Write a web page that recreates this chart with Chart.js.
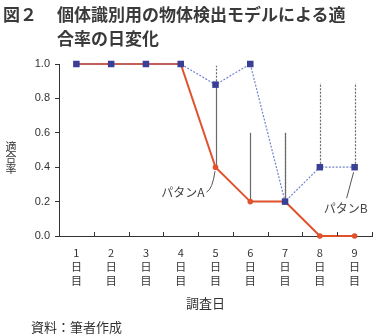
<!DOCTYPE html>
<html lang="ja">
<head>
<meta charset="utf-8">
<script src="https://cdn.jsdelivr.net/npm/chart.js@4.4.1/dist/chart.umd.min.js"></script>
<style>
  html, body { margin: 0; padding: 0; background: #fff; }
  body { width: 380px; height: 336px; position: relative; overflow: hidden;
         font-family: "Noto Sans CJK JP", "Noto Sans", sans-serif; color: #333; }
  #chart { position: absolute; left: 0; top: 0; }
  .txt { position: absolute; white-space: nowrap; line-height: 1; }
  .title { font-size: 17px; font-weight: bold; color: #3a3a3a; }
  .ytitle div { font-size: 11px; line-height: 11px; height: 11px; text-align: center; width: 14px; }
</style>
</head>
<body>
<canvas id="chart" width="380" height="336"></canvas>
<div class="txt title" style="left:3px;top:5px;">図２</div>
<div class="txt title" style="left:57px;top:5px;">個体識別用の物体検出モデルによる適</div>
<div class="txt title" style="left:57px;top:29px;">合率の日変化</div>
<div class="txt ytitle" style="left:4px;top:141px;"><div>適</div><div>合</div><div>率</div></div>
<div class="txt" style="left:186px;top:296px;font-size:13px;">調査日</div>
<div class="txt" style="left:31px;top:320px;font-size:13px;">資料：筆者作成</div>
<script>
// days surveyed
var days = ['1', '2', '3', '4', '5', '6', '7', '8', '9'];
var yTicks = [0, 0.2, 0.4, 0.6, 0.8, 1.0];

// fit rate per day
var patternA = [1.0, 1.0, 1.0, 1.0, 0.4, 0.2, 0.2, 0.0, 0.0];
var patternB = [1.0, 1.0, 1.0, 1.0, 0.88, 1.0, 0.2, 0.4, 0.4];

// upper end of the error bars
var upperA = [null, null, null, null, 0.88, 0.6, 0.6, null, null];
var upperB = [null, null, null, null, 0.99, null, 0.6, 0.89, 0.89];

var RED = '#e0512c';
var NAVY = '#3a3f96';
var BLUE_LINE = '#7384cc';
var AXIS = '#333';

// vertical error bars, solid for A and dotted for B
var errorBars = {
  id: 'errorBars',
  beforeDatasetsDraw: function(chart) {
    var ctx = chart.ctx;
    var x = chart.scales.x, y = chart.scales.y;
    function draw(values, uppers, dash) {
      ctx.save();
      ctx.strokeStyle = '#6a6a6a';
      ctx.lineWidth = 1.2;
      ctx.setLineDash(dash);
      uppers.forEach(function(u, i) {
        if (u === null) return;
        var px = Math.round(x.getPixelForValue(i)) + 0.5;
        ctx.beginPath();
        ctx.moveTo(px, y.getPixelForValue(values[i]));
        ctx.lineTo(px, y.getPixelForValue(u));
        ctx.stroke();
      });
      ctx.restore();
    }
    draw(patternB, upperB, [2, 1.5]);
    draw(patternA, upperA, []);
  }
};

// inward tick marks on the x axis and series labels
var extras = {
  id: 'extras',
  afterDraw: function(chart) {
    var ctx = chart.ctx;
    var x = chart.scales.x, y = chart.scales.y;
    var area = chart.chartArea;
    var step = x.getPixelForValue(1) - x.getPixelForValue(0);
    ctx.save();
    ctx.strokeStyle = AXIS;
    ctx.lineWidth = 1;
    for (var i = 1; i <= days.length; i++) {
      var tx = Math.round(area.left + step * i) + 0.5;
      ctx.beginPath();
      ctx.moveTo(tx, area.bottom);
      ctx.lineTo(tx, area.bottom - 4);
      ctx.stroke();
    }

    ctx.font = '12px "Noto Sans CJK JP", sans-serif';
    ctx.fillStyle = '#444';
    ctx.strokeStyle = '#555';
    ctx.textBaseline = 'middle';

    // パタンA points at day 5
    var ax = x.getPixelForValue(4), ay = y.getPixelForValue(patternA[4]);
    ctx.beginPath();
    ctx.moveTo(ax - 0.5, ay + 4);
    ctx.quadraticCurveTo(ax - 3, ay + 22, ax - 9, ay + 25);
    ctx.stroke();
    ctx.textAlign = 'right';
    ctx.fillText('パタンA', ax - 11, ay + 25);

    // パタンB points at day 9
    var bx = x.getPixelForValue(8), by = y.getPixelForValue(patternB[8]);
    ctx.beginPath();
    ctx.moveTo(bx - 1, by + 5);
    ctx.lineTo(bx - 8, by + 31);
    ctx.stroke();
    ctx.textAlign = 'center';
    ctx.fillText('パタンB', bx - 9, by + 41);
    ctx.restore();
  }
};

new Chart(document.getElementById('chart'), {
  type: 'line',
  data: {
    labels: days.map(function(d) { return [d, '日', '目']; }),
    datasets: [
      {
        label: 'パタンB',
        data: patternB,
        order: 0,
        borderColor: BLUE_LINE,
        borderWidth: 1.2,
        borderDash: [2, 1.5],
        pointStyle: 'rect',
        pointRadius: 4.6,
        pointBackgroundColor: NAVY,
        pointBorderColor: NAVY,
        pointBorderWidth: 0,
        tension: 0,
        clip: false
      },
      {
        label: 'パタンA',
        data: patternA,
        order: 1,
        borderColor: RED,
        borderWidth: 2,
        pointStyle: 'circle',
        pointRadius: 2.8,
        pointBackgroundColor: RED,
        pointBorderColor: RED,
        pointBorderWidth: 0,
        tension: 0,
        clip: false
      }
    ]
  },
  options: {
    responsive: false,
    animation: false,
    layout: { padding: { top: 64, right: 8, bottom: 0, left: 0 } },
    plugins: {
      legend: { display: false },
      tooltip: { enabled: false }
    },
    scales: {
      x: {
        type: 'category',
        offset: true,
        grid: { display: true, offset: true, drawOnChartArea: false, drawTicks: false },
        border: { color: AXIS, width: 1 },
        ticks: {
          color: '#333',
          padding: 10,
          maxRotation: 0,
          autoSkip: false,
          font: { family: '"Noto Sans CJK JP", sans-serif', size: 11, lineHeight: 1.25 }
        },
        afterFit: function(scale) { scale.height = 100; }
      },
      y: {
        min: 0,
        max: 1,
        afterBuildTicks: function(scale) {
          scale.ticks = yTicks.map(function(v) { return { value: v }; });
        },
        grid: { drawOnChartArea: false, drawTicks: true, tickLength: 4, color: AXIS },
        border: { color: AXIS, width: 1 },
        ticks: {
          color: '#333',
          padding: 5,
          font: { family: '"Liberation Sans", Arial, sans-serif', size: 11 },
          callback: function(v) { return Number(v).toFixed(1); }
        },
        afterFit: function(scale) { scale.width = 59; }
      }
    }
  },
  plugins: [errorBars, extras]
});
</script>
</body>
</html>
